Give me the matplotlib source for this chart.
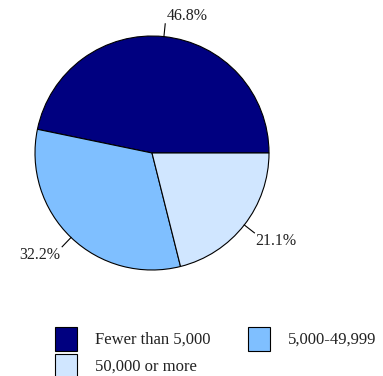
import numpy as np
import matplotlib.pyplot as plt
from matplotlib.patches import Rectangle

labels = ["Fewer than 5,000", "5,000-49,999", "50,000 or more"]
shares = [46.8, 32.2, 21.1]
colors = ["#000080", "#7FBFFF", "#D0E6FF"]

plt.rcParams["font.family"] = ["Liberation Serif", "DejaVu Serif"]

W, H = 383, 376
fig = plt.figure(figsize=(W / 100, H / 100), dpi=100)

# pie box: centre (152,153) px, radius 117 px
cx, cy, r = 152, 153, 117
ax = fig.add_axes([(cx - r) / W, (H - cy - r) / H, 2 * r / W, 2 * r / H])
wedges, _ = ax.pie(shares, colors=colors, startangle=0, counterclock=True,
                   wedgeprops=dict(edgecolor="black", linewidth=0.8))
ax.set_xlim(-1, 1)
ax.set_ylim(-1, 1)
ax.set_aspect("auto")

# leader lines and labels
total = sum(shares)
start = 0.0
for val, w in zip(shares, wedges):
    mid = np.deg2rad(start + val / total * 180)
    start += val / total * 360
    c, s = np.cos(mid), np.sin(mid)
    ax.plot([c, 1.11 * c], [s, 1.11 * s], color="black", lw=0.8, clip_on=False)
    ha = "left" if c >= 0 else "right"
    va = "bottom" if s > 0 else "top"
    ax.text(1.11 * c + (0.01 if c >= 0 else -0.02), 1.11 * s, f"{val:.1f}%",
            ha=ha, va=va, fontsize=11.5, color="#222222")

# legend, drawn by hand in pixel positions
spots = [(55, 327), (248, 327), (55, 354)]
for (x, y), lab, col in zip(spots, labels, colors):
    fig.patches.append(Rectangle((x / W, (H - y - 24) / H), 22 / W, 24 / H,
                                 transform=fig.transFigure, facecolor=col,
                                 edgecolor="black", linewidth=0.8))
    fig.text((x + 40) / W, (H - y - 13) / H, lab, ha="left", va="center",
             fontsize=12, color="#222222")

fig.savefig("out.png", dpi=100)
